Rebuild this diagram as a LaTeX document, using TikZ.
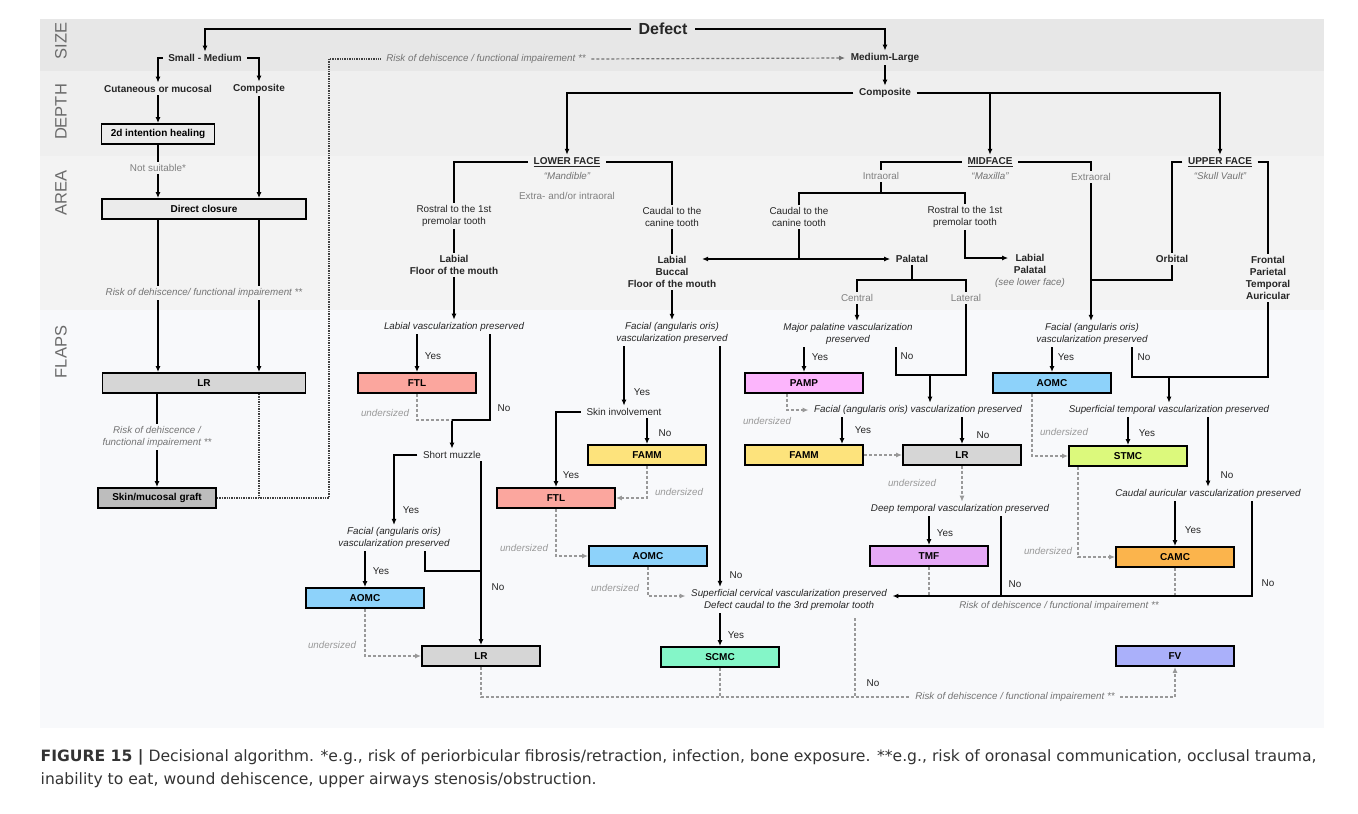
\documentclass[tikz,border=0pt]{standalone}
\usepackage{fontspec}
\setmainfont{Liberation Sans}
\newfontfamily\capfont{DejaVu Sans}
\usetikzlibrary{arrows.meta}
\definecolor{bgsize}{HTML}{E7E7E7}
\definecolor{bgdepth}{HTML}{EFEFEF}
\definecolor{bgarea}{HTML}{F3F3F3}
\definecolor{bgflaps}{HTML}{F8F9FB}
\definecolor{boxlight}{HTML}{EBEBEB}
\definecolor{clr}{HTML}{D6D6D6}
\definecolor{cgraft}{HTML}{BDBDBD}
\definecolor{cftl}{HTML}{FBA69E}
\definecolor{caomc}{HTML}{8DD2FA}
\definecolor{cfamm}{HTML}{FDE37C}
\definecolor{cpamp}{HTML}{FCB5FC}
\definecolor{cstmc}{HTML}{DCF97C}
\definecolor{ctmf}{HTML}{E5A9F6}
\definecolor{ccamc}{HTML}{FBB44C}
\definecolor{cscmc}{HTML}{84F6C8}
\definecolor{cfv}{HTML}{AAB0FA}
\begin{document}
\begin{tikzpicture}[x=1pt, y=-1pt, >={Latex[length=6pt,width=5pt]}, line width=1.4pt,
    txt/.style={font=\fontsize{9.9}{11.8}\selectfont, align=center, inner xsep=5pt, inner ysep=2pt, text=black!85},
    bld/.style={txt, font=\bfseries\fontsize{10}{12}\selectfont},
    ital/.style={txt, font=\itshape\fontsize{9.8}{11.5}\selectfont},
    gry/.style={txt, text=black!50},
    igry/.style={ital, text=black!55},
    usz/.style={ital, text=black!40},
    flap/.style={draw, line width=1.9pt, minimum width=118pt, minimum height=20pt, inner sep=0pt, font=\bfseries\fontsize{10}{12}\selectfont},
    band/.style={rotate=90, font=\fontsize{16.5}{16.5}\selectfont, text=black!58},
    und/.style={densely dashed, black!40, line width=1.2pt},
    dotln/.style={densely dotted, black!75, line width=1.4pt}]
\useasboundingbox (0,0) rectangle (1358,814);
\fill[white] (0,0) rectangle (1358,814);
\fill[bgsize] (40,19) rectangle (1324,71);
\fill[bgdepth] (40,71) rectangle (1324,156);
\fill[bgarea] (40,156) rectangle (1324,310);
\fill[bgflaps] (40,310) rectangle (1324,728);
\node[band] (sizelab) at (61,41) {SIZE};
\node[band] (depthlab) at (61,112) {DEPTH};
\node[band] (arealab) at (61,193) {AREA};
\node[band] (flapslab) at (61,352) {FLAPS};

\node[bld, inner xsep=7pt, font=\bfseries\fontsize{16}{18}\selectfont] (defect) at (663,29) {Defect};
\node[bld] (smallmed) at (205,58) {Small - Medium};
\node[bld] (medlarge) at (885,58) {Medium-Large};
\node[igry] (risktop) at (486,59) {Risk of dehiscence / functional impairement **};
\node[bld] (cutan) at (158,89) {Cutaneous or mucosal};
\node[bld] (compa) at (259,89) {Composite};
\node[flap, fill=boxlight, minimum width=113pt] (heal) at (158,134) {2d intention healing};
\node[gry] (notsuit) at (158,168) {Not suitable*};
\node[flap, fill=boxlight, minimum width=204pt] (direct) at (204,209) {Direct closure};
\node[igry] (riska) at (204,293) {Risk of dehiscence/ functional impairement **};
\node[flap, fill=clr, minimum width=203pt] (lra) at (204,383) {LR};
\node[igry] (riskb) at (157,437) {Risk of dehiscence /\\functional impairement **};
\node[flap, fill=cgraft] (graft) at (157,498) {Skin/mucosal graft};

\node[bld] (compb) at (885,93) {Composite};
\node[bld] (lower) at (567,162) {\underline{LOWER FACE}};
\node[igry] (mandible) at (567,176) {“Mandible”};
\node[gry] (extraintra) at (567,196) {Extra- and/or intraoral};
\node[txt] (rostrall) at (454,216) {Rostral to the 1st\\premolar tooth};
\node[txt] (caudall) at (672,217) {Caudal to the\\canine tooth};
\node[bld] (labiall) at (454,265) {Labial\\Floor of the mouth};
\node[bld] (labialb) at (672,272) {Labial\\Buccal\\Floor of the mouth};
\node[bld] (mid) at (990,162) {\underline{MIDFACE}};
\node[igry] (maxilla) at (990,176) {“Maxilla”};
\node[gry] (intra) at (881,176) {Intraoral};
\node[gry] (extra) at (1091,177) {Extraoral};
\node[txt] (caudalm) at (799,217) {Caudal to the\\canine tooth};
\node[txt] (rostralm) at (965,217) {Rostral to the 1st\\premolar tooth};
\node[bld] (palatal) at (912,259) {Palatal};
\node[bld] (labpal) at (1030,264) {Labial\\Palatal};
\node[igry] (seelower) at (1030,283) {(see lower face)};
\node[gry] (central) at (857,298) {Central};
\node[gry] (lateral) at (966,298) {Lateral};
\node[bld] (upper) at (1220,162) {\underline{UPPER FACE}};
\node[igry] (skull) at (1220,176) {“Skull Vault”};
\node[bld] (orbital) at (1172,259) {Orbital};
\node[bld] (frontal) at (1268,278) {Frontal\\Parietal\\Temporal\\Auricular};

\node[ital] (labvasc) at (454,327) {Labial vascularization preserved};
\node[flap, fill=cftl] (ftla) at (417,383) {FTL};
\node[txt] (shortm) at (452,455) {Short muzzle};
\node[ital] (faciala) at (394,538) {Facial (angularis oris)\\vascularization preserved};
\node[flap, fill=caomc] (aomca) at (365,598) {AOMC};
\node[flap, fill=clr] (lrb) at (481,656) {LR};
\node[ital] (facialb) at (672,333) {Facial (angularis oris)\\vascularization preserved};
\node[txt] (skin) at (624,412) {Skin involvement};
\node[flap, fill=cfamm] (famma) at (647,455) {FAMM};
\node[flap, fill=cftl] (ftlb) at (556,498) {FTL};
\node[flap, fill=caomc] (aomcb) at (648,556) {AOMC};
\node[ital] (supcerv) at (789,600) {Superficial cervical vascularization preserved\\Defect caudal to the 3rd premolar tooth};
\node[flap, fill=cscmc] (scmc) at (720,657) {SCMC};
\node[ital] (majpal) at (848,334) {Major palatine vascularization\\preserved};
\node[flap, fill=cpamp] (pamp) at (804,383) {PAMP};
\node[ital] (facialc) at (918,410) {Facial (angularis oris) vascularization preserved};
\node[flap, fill=cfamm] (fammb) at (804,455) {FAMM};
\node[flap, fill=clr] (lrc) at (962,455) {LR};
\node[ital] (deept) at (960,509) {Deep temporal vascularization preserved};
\node[flap, fill=ctmf] (tmf) at (929,556) {TMF};
\node[ital] (faciald) at (1092,334) {Facial (angularis oris)\\vascularization preserved};
\node[flap, fill=caomc] (aomcc) at (1052,383) {AOMC};
\node[ital] (supt) at (1169,410) {Superficial temporal vascularization preserved};
\node[flap, fill=cstmc] (stmc) at (1128,456) {STMC};
\node[ital] (caudaur) at (1208,494) {Caudal auricular vascularization preserved};
\node[flap, fill=ccamc] (camc) at (1175,557) {CAMC};
\node[flap, fill=cfv] (fv) at (1175,656) {FV};
\node[igry] (riskc) at (1059,606) {Risk of dehiscence / functional impairement **};
\node[igry] (riskd) at (1015,697) {Risk of dehiscence / functional impairement **};

\node[txt] (y1) at (433,356) {Yes};
\node[txt] (n1) at (504,408) {No};
\node[txt] (y2) at (411,510) {Yes};
\node[txt] (y3) at (381,571) {Yes};
\node[txt] (n2) at (498,587) {No};
\node[txt] (y4) at (642,392) {Yes};
\node[txt] (n3) at (736,575) {No};
\node[txt] (y5) at (571,475) {Yes};
\node[txt] (n4) at (665,433) {No};
\node[txt] (y6) at (736,635) {Yes};
\node[txt] (n5) at (873,683) {No};
\node[txt] (y7) at (820,357) {Yes};
\node[txt] (n6) at (907,356) {No};
\node[txt] (y8) at (863,430) {Yes};
\node[txt] (n7) at (983,435) {No};
\node[txt] (y9) at (945,533) {Yes};
\node[txt] (n8) at (1015,584) {No};
\node[txt] (y10) at (1066,357) {Yes};
\node[txt] (n9) at (1144,357) {No};
\node[txt] (y11) at (1147,433) {Yes};
\node[txt] (n10) at (1227,475) {No};
\node[txt] (y12) at (1193,530) {Yes};
\node[txt] (n11) at (1268,583) {No};
\node[usz] (u1) at (385,413) {undersized};
\node[usz] (u2) at (767,421) {undersized};
\node[usz] (u3) at (679,492) {undersized};
\node[usz] (u4) at (524,548) {undersized};
\node[usz] (u5) at (615,588) {undersized};
\node[usz] (u6) at (332,645) {undersized};
\node[usz] (u7) at (912,483) {undersized};
\node[usz] (u8) at (1064,432) {undersized};
\node[usz] (u9) at (1048,551) {undersized};

\draw[->] (defect.west) -| (smallmed.north);
\draw[->] (defect.east) -| (medlarge.north);
\draw[->] (smallmed.west) -| (cutan.north);
\draw[->] (smallmed.east) -| (compa.north);
\draw[->] (cutan.south) -- (heal.north);
\draw (heal.south) -- (notsuit.north);
\draw[->] (notsuit.south) -- (notsuit.south |- direct.north);
\draw[->] (compa.south) -- (compa.south |- direct.north);
\draw (direct.south -| cutan) -- (riska.north -| cutan);
\draw (direct.south -| compa) -- (riska.north -| compa);
\draw[->] (riska.south -| cutan) -- (lra.north -| cutan);
\draw[->] (riska.south -| compa) -- (lra.north -| compa);
\draw (lra.south -| riskb) -- (riskb.north);
\draw[->] (riskb.south) -- (graft.north);
\draw[dotln] (lra.south -| compa) -- (graft.east -| compa);
\coordinate (dcorner) at (329,59);
\draw[dotln] (graft.east) -| (dcorner) -- (risktop.west);
\draw[und, black!55, ->] (risktop.east) -- (medlarge.west);

\draw[->] (medlarge.south) -- (compb.north);
\draw[->] (compb.west) -| (lower.north);
\draw[->] (compb.east) -| (upper.north);
\draw[->] (compb.east -| mid) -- (mid.north);
\draw (lower.west) -| (rostrall.north);
\draw (lower.east) -| (caudall.north);
\draw (rostrall.south) -- (labiall.north);
\draw (caudall.south) -- (labialb.north);
\draw (mid.west) -| (intra.north);
\draw (mid.east) -| (extra.north);
\coordinate (ibar) at (881,193);
\draw (intra.south) -- (ibar);
\draw (caudalm.north) |- (ibar) -| (rostralm.north);
\coordinate (labtip) at (702,259);
\draw[<->] (labtip) -- (palatal.west);
\draw (caudalm.south) -- (caudalm.south |- palatal.west);
\draw[->] (rostralm.south) |- ([yshift=6pt]labpal.west);
\coordinate (pbar) at (912,280);
\draw (palatal.south) -- (pbar);
\draw (central.north) |- (pbar) -| (lateral.north);
\draw (upper.west) -| (orbital.north);
\draw (upper.east) -| (frontal.north);
\draw (orbital.south) |- (pbar -| extra);
\draw[->] (extra.south) -- (faciald.north -| extra);

\draw[->] (labiall.south) -- (labvasc.north);
\draw[->] (labvasc.south -| ftla) -- (ftla.north);
\coordinate (j1) at (452,420);
\draw[->] ([xshift=36pt]labvasc.south) |- (j1) -- (shortm.north);
\draw[und] (ftla.south) |- (j1);
\draw[->] (shortm.west) -| (faciala.north);
\draw[->] (shortm.south -| lrb) -- (lrb.north);
\draw[->] (faciala.south -| aomca) -- (aomca.north);
\coordinate (j2) at (481,571);
\draw ([xshift=31pt]faciala.south) |- (j2);
\draw[und,->] (aomca.south) |- (lrb.west);
\draw[und] (lrb.south) |- (riskd.west);
\draw[und,->] (riskd.east) -| (fv.south);
\draw[->] (labialb.south) -- (facialb.north);
\draw[->] (facialb.south -| skin) -- (skin.north);
\draw[->] (facialb.south -| scmc) -- (supcerv.north -| scmc);
\draw[->] (skin.west) -| (ftlb.north);
\draw[->] (skin.south -| famma) -- (famma.north);
\draw[und,->] (famma.south) |- (ftlb.east);
\draw[und,->] (ftlb.south) |- (aomcb.west);
\draw[und,->] (aomcb.south) |- ([yshift=4pt]supcerv.west);
\draw[->] (supcerv.south -| scmc) -- (scmc.north);
\draw[und] (scmc.south) -- (scmc.south |- riskd.west);
\coordinate (jn) at (855,618);
\draw[und] (jn) -- (jn |- riskd.west);

\draw[->] (central.south) -- (central.south |- majpal.north);
\draw[->] (majpal.south -| pamp) -- (pamp.north);
\coordinate (jl) at (930,375);
\draw ([xshift=48pt]majpal.south) |- (jl);
\draw (lateral.south) |- (jl);
\draw[->] (jl) -- (jl |- facialc.north);
\draw[und,->] ([xshift=-17pt]pamp.south) |- (facialc.west);
\coordinate (xfy) at (842,0);
\draw[->] (facialc.south -| xfy) -- (fammb.north -| xfy);
\draw[->] (facialc.south -| lrc) -- (lrc.north);
\draw[und,->] (fammb.east) -- (lrc.west);
\draw[und,->] (lrc.south) -- (lrc.south |- deept.north);
\draw[->] (deept.south -| tmf) -- (tmf.north);
\coordinate (cline) at ([yshift=4pt]supcerv.east);
\coordinate (jdt) at (1001,0);
\draw (deept.south -| jdt) -- (cline -| jdt);
\draw[und] (tmf.south) -- (tmf.south |- cline);

\draw[->] (faciald.south -| aomcc) -- (aomcc.north);
\coordinate (jst) at (1169,377);
\draw ([xshift=40pt]faciald.south) |- (jst);
\draw (frontal.south) |- (jst);
\draw[->] (jst) -- (jst |- supt.north);
\draw[und,->] ([xshift=-20pt]aomcc.south) |- (stmc.west);
\draw[->] (supt.south -| stmc) -- (stmc.north);
\draw[->] (supt.south -| caudaur) -- (caudaur.north);
\draw[->] (caudaur.south -| camc) -- (camc.north);
\draw[und,->] ([xshift=-50pt]stmc.south) |- (camc.west);
\draw[und] (camc.south) -- (camc.south |- cline);
\draw[->] ([xshift=44pt]caudaur.south) |- (cline);

\node[anchor=north west, align=left, inner sep=0pt, text=black!80, font=\capfont\fontsize{15.6}{23}\selectfont] (caption) at (40,749) {\textbf{FIGURE 15 |} Decisional algorithm. *e.g., risk of periorbicular fibrosis/retraction, infection, bone exposure. **e.g., risk of oronasal communication, occlusal trauma,\\inability to eat, wound dehiscence, upper airways stenosis/obstruction.};
\end{tikzpicture}
\end{document}
